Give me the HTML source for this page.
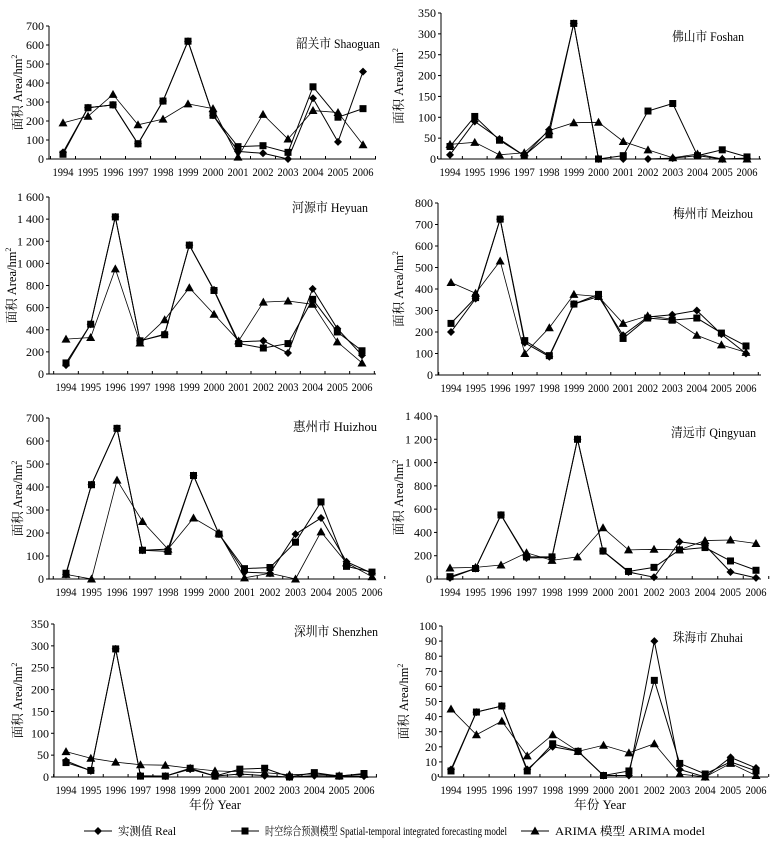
<!DOCTYPE html>
<html><head><meta charset="utf-8"><style>
body{margin:0;background:#fff}
svg{display:block}
text{font-family:"Liberation Serif","Noto Serif CJK SC",serif;fill:#000}
</style></head><body>
<svg id="fig" width="775" height="845" viewBox="0 0 775 845" xmlns="http://www.w3.org/2000/svg"></svg>
<script>
const years=["1994","1995","1996","1997","1998","1999","2000","2001","2002","2003","2004","2005","2006"];
const shaoguanReal=[35,270,285,80,305,620,230,40,30,0,320,90,460];
const shaoguanSp=[25,270,285,80,305,620,230,65,70,35,380,220,265];
const shaoguanAr=[190,225,340,180,210,290,265,10,235,105,255,245,75];
const foshanReal=[10,90,48,8,70,325,0,0,0,2,8,0,2];
const foshanSp=[30,102,45,8,58,325,0,8,115,133,8,22,5];
const foshanAr=[35,40,10,15,68,87,88,42,22,3,12,0,0];
const heyuanReal=[80,450,1420,300,360,1165,760,290,300,190,770,410,170];
const heyuanSp=[100,450,1420,300,355,1165,755,275,235,275,675,380,210];
const heyuanAr=[315,330,950,280,490,780,540,300,650,660,630,290,100];
const meizhouReal=[200,355,725,150,85,330,365,185,270,280,300,190,100];
const meizhouSp=[240,360,725,160,90,330,375,170,265,255,265,195,135];
const meizhouAr=[430,380,530,100,220,375,365,240,275,260,185,140,105];
const huizhouReal=[20,410,655,125,130,450,195,30,25,195,265,75,25];
const huizhouSp=[25,410,655,125,120,450,195,45,50,160,335,55,30];
const huizhouAr=[20,0,430,250,130,265,200,5,25,0,205,70,10];
const qingyuanReal=[10,90,550,180,185,1200,240,60,15,320,290,60,10];
const qingyuanSp=[20,90,550,190,190,1200,240,65,100,250,270,155,75];
const qingyuanAr=[95,100,120,225,160,190,440,250,255,250,330,335,305];
const shenzhenReal=[37,14,293,3,2,18,2,7,3,0,3,2,2];
const shenzhenSp=[33,15,293,2,2,20,2,18,20,0,10,2,8];
const shenzhenAr=[58,43,34,28,27,20,14,12,10,5,7,3,6];
const zhuhaiReal=[5,43,47,5,20,17,1,1,90,5,0,13,6];
const zhuhaiSp=[4,43,47,4,22,17,1,4,64,9,2,10,4];
const zhuhaiAr=[45,28,37,14,28,17,21,16,22,2,0,9,1];

const panels=[
 {name:"shaoguan",title:"韶关市 Shaoguan",tw:84,ax:49,right:376,x0:63,x1:363,yTop:26,yBot:159,max:700,step:100,tx:380,ty:48,ytx:22,real:shaoguanReal,sp:shaoguanSp,ar:shaoguanAr},
 {name:"foshan",title:"佛山市 Foshan",tw:72,ax:441,right:761,x0:450,x1:747,yTop:13,yBot:159,max:350,step:50,tx:744,ty:41,ytx:403,real:foshanReal,sp:foshanSp,ar:foshanAr},
 {name:"heyuan",title:"河源市 Heyuan",tw:76,ax:49,right:376,x0:66,x1:362,yTop:197,yBot:374,max:1600,step:200,tx:368,ty:212,ytx:16,real:heyuanReal,sp:heyuanSp,ar:heyuanAr},
 {name:"meizhou",title:"梅州市 Meizhou",tw:80,ax:438,right:761,x0:451,x1:746,yTop:203,yBot:375,max:800,step:100,tx:753,ty:218,ytx:403,real:meizhouReal,sp:meizhouSp,ar:meizhouAr},
 {name:"huizhou",title:"惠州市 Huizhou",tw:84,ax:49,right:376,x0:66,x1:372,yTop:418,yBot:579,max:700,step:100,tx:377,ty:431,ytx:22,real:huizhouReal,sp:huizhouSp,ar:huizhouAr},
 {name:"qingyuan",title:"清远市 Qingyuan",tw:85,ax:437,right:761,x0:450,x1:756,yTop:416,yBot:579,max:1400,step:200,tx:756,ty:437,ytx:403,real:qingyuanReal,sp:qingyuanSp,ar:qingyuanAr},
 {name:"shenzhen",title:"深圳市 Shenzhen",tw:84,ax:54,right:377,x0:66,x1:364,yTop:624,yBot:777,max:350,step:50,tx:378,ty:636,ytx:22,real:shenzhenReal,sp:shenzhenSp,ar:shenzhenAr},
 {name:"zhuhai",title:"珠海市 Zhuhai",tw:70,ax:442,right:768,x0:451,x1:756,yTop:626,yBot:777,max:100,step:10,tx:743,ty:642,ytx:408,real:zhuhaiReal,sp:zhuhaiSp,ar:zhuhaiAr}
];
const NS="http://www.w3.org/2000/svg";
const svg=document.getElementById('fig');
function mk(tag,attrs,parent){const e=document.createElementNS(NS,tag);for(const k in attrs)e.setAttribute(k,attrs[k]);(parent||svg).appendChild(e);return e;}
function fmt(v){return v>=1000?Math.floor(v/1000)+" "+String(v%1000).padStart(3,"0"):String(v);}
function marker(g,type,x,y){
 let m;
 if(type==="real"){m=mk('polygon',{points:`${x},${y-4} ${x+4},${y} ${x},${y+4} ${x-4},${y}`,fill:'#000'},g);}
 else if(type==="sp"){m=mk('rect',{x:x-3.5,y:y-3.5,width:7,height:7,fill:'#000'},g);}
 else {m=mk('polygon',{points:`${x},${y-4.5} ${x+4.5},${y+3.5} ${x-4.5},${y+3.5}`,fill:'#000'},g);}
 return m;
}
panels.forEach(p=>{
 const g=mk('g',{});
 
 
 const sx=i=>p.x0+(p.x1-p.x0)*i/(years.length-1);
 const sy=v=>p.yBot-(p.yBot-p.yTop)*v/p.max;
 const ya=mk('line',{x1:p.ax,y1:p.yTop,x2:p.ax,y2:p.yBot,stroke:'#000','stroke-width':1},g);
 
 
 const xa=mk('line',{x1:p.ax,y1:p.yBot,x2:p.right,y2:p.yBot,stroke:'#000','stroke-width':1},g);
 
 
 for(let v=0;v<=p.max+1e-9;v+=p.step){
  const y=sy(v);
  mk('line',{x1:p.ax-3,y1:y,x2:p.ax,y2:y,stroke:'#000'},g);
  const t=mk('text',{x:p.ax-5,y:y+4,'text-anchor':'end','font-size':12},g);
  t.textContent=fmt(v);
  
  
 }
 const dx=(p.x1-p.x0)/(years.length-1);
 for(let i=0;i<=years.length;i++){
  const x=p.x0-dx/2+i*dx;
  mk('line',{x1:x,y1:p.yBot,x2:x,y2:p.yBot-3,stroke:'#000'},g);
 }
 years.forEach((yr,i)=>{
  const t=mk('text',{x:sx(i)-10.5,y:p.yBot+17,'font-size':11.5,textLength:21,lengthAdjust:'spacingAndGlyphs'},g);
  t.textContent=yr;
  
  
 });
 const yt=mk('text',{x:0,y:0,'text-anchor':'middle','font-size':12.5,transform:`translate(${p.ytx},${(p.yTop+p.yBot)/2}) rotate(-90)`},g);
 yt.innerHTML='面积 Area/hm<tspan dy="-5" font-size="8">2</tspan>';
 
 
 const tt=mk('text',{x:p.tx-p.tw,y:p.ty,'font-size':13,textLength:p.tw,lengthAdjust:'spacingAndGlyphs'},g);
 tt.textContent=p.title;
 
 
 [["ar",p.ar],["sp",p.sp],["real",p.real]].forEach(([type,arr])=>{
  const pts=arr.map((v,i)=>sx(i)+","+sy(v)).join(" ");
  const l=mk('polyline',{points:pts,fill:'none',stroke:'#000','stroke-width':type==="ar"?0.8:1},g);
  
  
  arr.forEach((v,i)=>{
   const m=marker(g,type,sx(i),sy(v));
   
   
  });
 });
});
[[215,"left"],[600,"right"]].forEach(([x,s])=>{
 const t=mk('text',{x:x-26,y:809,'font-size':12.5,textLength:52,lengthAdjust:'spacingAndGlyphs'});
 t.textContent="年份 Year";
 
 
});
const lg=mk('g',{});


const legendItems=[["real",98,"实测值 Real",118,58],["sp",245,"时空综合预测模型 Spatial-temporal integrated forecasting model",265,242],["ar",535,"ARIMA 模型 ARIMA model",555,150]];
legendItems.forEach(([type,x,label,tx,tw])=>{
 const e=mk('g',{},lg);
 
 
 mk('line',{x1:x-14,y1:831,x2:x+14,y2:831,stroke:'#000'},e);
 marker(e,type,x,831);
 const t=mk('text',{x:tx,y:835,'font-size':11.5,textLength:tw,lengthAdjust:'spacingAndGlyphs'},e);
 t.textContent=label;
});
</script>
</body></html>
